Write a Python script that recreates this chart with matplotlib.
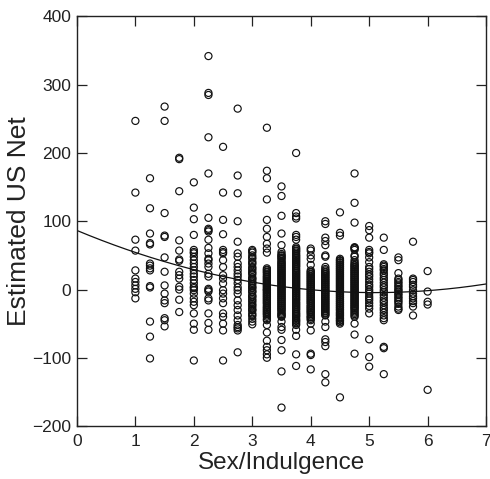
import matplotlib
matplotlib.use("Agg")
import matplotlib.pyplot as plt
import numpy as np

plt.rcParams['font.family'] = ['Liberation Sans', 'DejaVu Sans']

# Sex/Indulgence score -> Estimated US Net values
col_1_00 = [247, 142, 73, 57, 28, 16, 11, 6, 1, -4, -13]
col_1_25 = [163, 119, 82, 68, 66, 38, 35, 31, 28, 5, 3, -47, -69, -101]
col_1_50 = [268, 247, 112, 79, 77, 47, 26, 6, -6, -16, -20, -42, -45, -54]
col_1_75 = [193, 191, 144, 72, 57, 44, 42, 26, 21, 16, 4, 0, -15, -33]
col_2_00 = [157, 120, 103, 80, 58, 55, 53, 48, 43, 38, 33, 28, 23, 19, 14, 9,
            4, 2, -1, -6, -13, -18, -23, -35, -50, -59, -104]
col_2_25 = [342, 288, 285, 223, 170, 105, 89, 87, 85, 73, 61, 53, 45, 43, 38,
            33, 23, 19, 1, -1, -3, -13, -16, -35, -49, -59]
col_2_50 = [209, 142, 102, 81, 58, 55, 53, 43, 33, 21, 16, 9, -1, -6, -13,
            -20, -35, -40, -50, -60, -104]
col_2_75 = [265, 167, 141, 100, 70, 53, 48, 38, 33, 28, 23, 19, 14, 9, 3, -1,
            -6, -16, -23, -30, -38, -45, -52, -55, -57, -60, -92]
col_3_00 = [58, 56, 54, 50, 47, 45, 41, 39, 37, 33, 31, 29, 26, 24, 22, 18, 16,
            15, 12, 10, 8, 5, 3, 2, -1, -3, -4, -8, -10, -11, -14, -16, -18,
            -21, -23, -25, -28, -30, -31, -35, -37, -39, -43, -47, -51]
col_3_25 = [237, 174, 163, 132, 102, 89, 77, 67, 60, 54, 31, 29, 28, 26, 25,
            23, 21, 19, 18, 16, 15, 13, 12, 10, 9, 7, 6, 4, 3, 1, 0, -1, -2,
            -4, -5, -7, -8, -10, -11, -13, -14, -16, -17, -19, -20, -22, -24,
            -26, -27, -29, -30, -32, -33, -35, -36, -38, -40, -43, -45, -52,
            -63, -75, -84, -89, -95, -100]
col_3_50 = [151, 137, 108, 82, 65, 55, 52, 50, 49, 47, 46, 44, 42, 40, 39, 37,
            36, 34, 33, 31, 30, 28, 27, 25, 24, 22, 21, 19, 18, 16, 15, 13, 12,
            10, 9, 7, 6, 4, 3, 1, 0, -2, -3, -5, -6, -8, -9, -11, -12, -14,
            -15, -17, -18, -20, -21, -23, -24, -26, -27, -29, -30, -32, -34,
            -36, -37, -39, -40, -47, -55, -59, -74, -89, -120, -173]
col_3_75 = [200, 112, 107, 104, 80, 77, 73, 62, 60, 59, 57, 56, 54, 52, 50, 49,
            47, 46, 44, 43, 41, 40, 38, 37, 35, 34, 32, 30, 28, 27, 25, 24, 22,
            21, 19, 18, 16, 15, 13, 12, 10, 9, 7, 6, 4, 3, 1, 0, -2, -3, -5,
            -6, -8, -9, -11, -12, -14, -15, -17, -19, -20, -22, -23, -25, -26,
            -28, -29, -31, -33, -35, -36, -38, -39, -41, -43, -45, -46, -48,
            -50, -52, -59, -68, -95, -112]
col_4_00 = [60, 57, 50, 45, 36, 28, 26, 25, 23, 22, 20, 19, 17, 16, 14, 13, 11,
            10, 8, 7, 5, 4, 2, 1, -1, -2, -4, -5, -7, -8, -10, -11, -13, -14,
            -16, -17, -19, -20, -22, -24, -25, -27, -28, -30, -31, -33, -34,
            -36, -38, -40, -41, -43, -45, -50, -60, -94, -96, -117]
col_4_25 = [100, 96, 76, 71, 65, 50, 48, 33, 30, 28, 26, 25, 23, 22, 20, 19,
            17, 16, 14, 13, 11, 10, 8, 7, 5, 4, 2, 1, -1, -2, -4, -5, -7, -8,
            -10, -11, -13, -14, -16, -17, -19, -20, -22, -23, -25, -26, -28,
            -29, -31, -32, -34, -35, -37, -38, -47, -55, -73, -77, -83, -124,
            -136]
col_4_50 = [113, 83, 79, 45, 43, 42, 40, 39, 37, 36, 34, 33, 31, 30, 28, 27,
            25, 24, 22, 21, 19, 18, 16, 15, 13, 12, 10, 9, 7, 6, 4, 3, 1, 0,
            -2, -3, -5, -6, -8, -9, -11, -12, -14, -15, -17, -18, -20, -21,
            -23, -24, -26, -27, -29, -30, -32, -34, -35, -37, -38, -40, -42,
            -43, -45, -46, -48, -50, -158]
col_4_75 = [170, 127, 98, 62, 61, 60, 58, 50, 48, 43, 40, 38, 36, 35, 33, 32,
            30, 29, 27, 26, 24, 23, 21, 20, 18, 17, 15, 14, 12, 11, 9, 8, 6, 5,
            3, 2, 0, -1, -3, -4, -6, -7, -9, -10, -12, -13, -15, -16, -18, -19,
            -21, -22, -24, -25, -27, -28, -30, -32, -34, -36, -38, -40, -50,
            -66, -94]
col_5_00 = [93, 87, 76, 58, 55, 53, 47, 40, 33, 30, 26, 22, 19, 15, 11, 7, 4,
            0, -3, -6, -10, -13, -16, -20, -24, -28, -35, -73, -99, -113]
col_5_25 = [76, 58, 37, 35, 33, 30, 28, 24, 21, 17, 14, 10, 6, 3, -1, -4, -8,
            -12, -16, -19, -23, -27, -30, -34, -38, -42, -45, -84, -86, -124]
col_5_50 = [47, 43, 24, 16, 14, 11, 9, 6, 4, 1, -1, -3, -6, -8, -11, -13, -16,
            -18, -21, -25, -28, -30]
col_5_75 = [70, 16, 14, 11, 7, 4, -1, -6, -10, -13, -17, -20, -25, -38]
col_6_00 = [27, -3, -18, -22, -147]

x_levels = [1.0, 1.25, 1.5, 1.75, 2.0, 2.25, 2.5, 2.75, 3.0, 3.25, 3.5, 3.75,
            4.0, 4.25, 4.5, 4.75, 5.0, 5.25, 5.5, 5.75, 6.0]
y_columns = [col_1_00, col_1_25, col_1_50, col_1_75, col_2_00, col_2_25,
             col_2_50, col_2_75, col_3_00, col_3_25, col_3_50, col_3_75,
             col_4_00, col_4_25, col_4_50, col_4_75, col_5_00, col_5_25,
             col_5_50, col_5_75, col_6_00]

# quadratic fit shown on the chart (coefficients)
fit_coef = [3.5, -35.7, 86.5]

xs = np.concatenate([[xv] * len(col) for xv, col in zip(x_levels, y_columns)])
ys = np.concatenate(y_columns)

fig = plt.figure(figsize=(4.9, 4.79), dpi=100)
ax = fig.add_axes([0.157, 0.1106, 0.835, 0.855])

ax.scatter(xs, ys, s=26, facecolors='none', edgecolors='#111111',
           linewidths=0.85, zorder=3)

xf = np.linspace(0, 7, 200)
ax.plot(xf, np.polyval(fit_coef, xf), color='#111111', linewidth=0.9, zorder=2)

ax.set_xlim(0, 7)
ax.set_ylim(-200, 400)
ax.set_xticks(range(0, 8))
ax.set_yticks(range(-200, 401, 100))

ax.tick_params(direction='in', length=7, width=0.9, top=True, right=True,
               labelsize=12.5, colors='#222222')
ax.tick_params(axis='y', pad=4)
ax.tick_params(axis='x', pad=6)
for sp in ax.spines.values():
    sp.set_linewidth(1.0)
    sp.set_color('#222222')

ax.set_xlabel('Sex/Indulgence', fontsize=17.5, color='#222222', labelpad=2)
ax.set_ylabel('Estimated US Net', fontsize=19, color='#222222', labelpad=1)

fig.savefig('out.png', dpi=100)
